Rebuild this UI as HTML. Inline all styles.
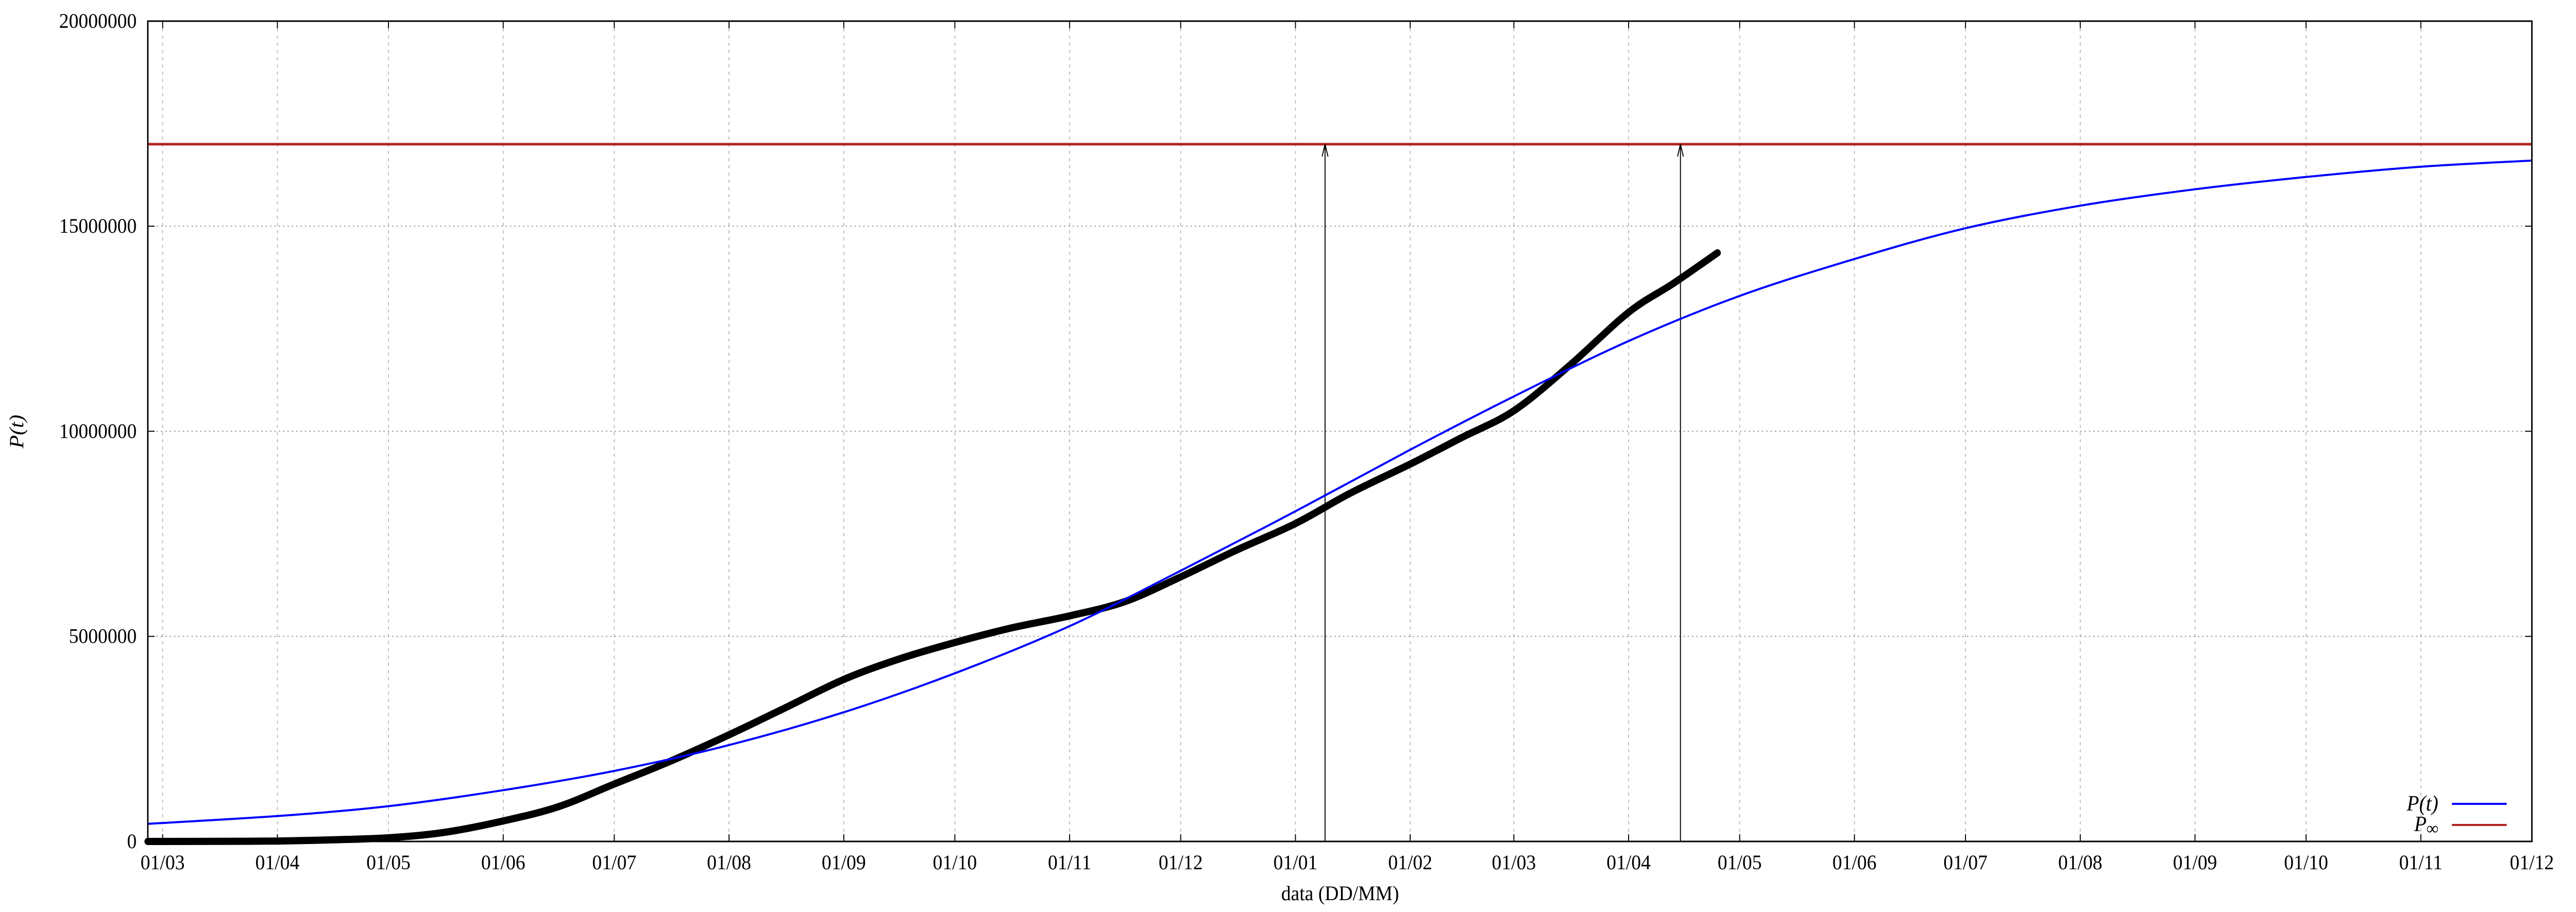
<!DOCTYPE html>
<html><head><meta charset="utf-8"><style>
html,body{margin:0;padding:0;background:#fff;width:100%;height:100%;overflow:hidden;}
svg{display:block;position:fixed;left:0;top:0;width:100vw;height:100vh;}
text{font-family:"Liberation Serif",serif;fill:#000;}
</style></head><body>
<svg id="chart" viewBox="0 0 5315 1771" preserveAspectRatio="none" xmlns="http://www.w3.org/2000/svg">
<rect width="5315" height="1771" fill="#fff"/>
<g id="grid"></g>
<g id="series"></g>
<g id="axes"></g>
<text x="2765" y="1748" font-size="40" text-anchor="middle">data (DD/MM)</text>
<text transform="translate(48,838) rotate(-90)" font-size="42" font-style="italic" text-anchor="middle">P(t)</text>
<g>
<text x="5031" y="1574" font-size="42" font-style="italic" text-anchor="end">P(t)</text>
<line x1="5059" y1="1561" x2="5172" y2="1561" stroke="#0000ff" stroke-width="4"/>
<text x="5031" y="1614" font-size="42" font-style="italic" text-anchor="end">P<tspan font-size="34" dy="6">∞</tspan></text>
<line x1="5059" y1="1602" x2="5172" y2="1602" stroke="#b22222" stroke-width="4"/>
</g>
</svg>
<script>
// days since 01/03/2020
const monthTickDays = [0,31,61,92,122,153,184,214,245,275,306,337,365,396,426,457,487,518,549,579,610,640];
const monthTickLabels = ["01/03","01/04","01/05","01/06","01/07","01/08","01/09","01/10","01/11","01/12","01/01","01/02","01/03","01/04","01/05","01/06","01/07","01/08","01/09","01/10","01/11","01/12"];
const yTickValues = [0,5000000,10000000,15000000,20000000];
const yTickLabels = ["0","5000000","10000000","15000000","20000000"];
const dataDays = [-4,0,15,31,46,61,76,92,107,122,137,153,168,184,199,214,229,245,260,275,290,306,321,337,351,365,380,396,408,420];
const dataValues = [0,0,3000,10000,40000,90000,220000,500000,850000,1400000,1950000,2600000,3250000,3950000,4450000,4850000,5200000,5500000,5850000,6450000,7100000,7750000,8500000,9200000,9850000,10500000,11600000,12900000,13600000,14350000];
const modelDays = [-4,31,61,92,122,153,184,214,245,275,306,337,365,396,426,457,487,518,549,579,610,640];
const modelValues = [430000,620000,860000,1250000,1720000,2350000,3150000,4100000,5250000,6600000,8050000,9550000,10850000,12200000,13300000,14200000,14950000,15500000,15900000,16200000,16450000,16600000];
const pInfinity = 17000000;
const arrowDays = [314,410];

const X0=305,X1=5224,Y0=1634,Y1=41;
const dMin=-4,dMax=640,vMax=20000000;
const xs=d=>X0+(d-dMin)/(dMax-dMin)*(X1-X0);
const ys=v=>Y0-v/vMax*(Y0-Y1);
const NS="http://www.w3.org/2000/svg";
function mk(tag,attrs,parent){const e=document.createElementNS(NS,tag);for(const k in attrs)e.setAttribute(k,attrs[k]);parent.appendChild(e);return e;}
const grid=document.getElementById('grid'),series=document.getElementById('series'),axes=document.getElementById('axes');

monthTickDays.forEach((d,i)=>{
  const x=xs(d);
  const g=mk('line',{x1:x,y1:Y1,x2:x,y2:Y0,stroke:'#bbb','stroke-width':2,'stroke-dasharray':'6,8'},grid);
  
  
  const t1=mk('line',{x1:x,y1:Y0,x2:x,y2:Y0-14,stroke:'#000','stroke-width':2},axes);
  
  
  const t2=mk('line',{x1:x,y1:Y1,x2:x,y2:Y1+14,stroke:'#000','stroke-width':2},axes);
  
  
  const lb=mk('text',{x:x,y:1688,'font-size':40,'text-anchor':'middle'},axes);
  lb.textContent=monthTickLabels[i];
  
  
});
yTickValues.forEach((v,i)=>{
  const y=ys(v);
  if(v>0&&v<vMax){
    const g=mk('line',{x1:X0,y1:y,x2:X1,y2:y,stroke:'#999','stroke-width':2,'stroke-dasharray':'3,6'},grid);
    
    
  }
  const t=mk('line',{x1:X0,y1:y,x2:X0+14,y2:y,stroke:'#000','stroke-width':2},axes);
  
  
  const t2=mk('line',{x1:X1,y1:y,x2:X1-14,y2:y,stroke:'#000','stroke-width':2},axes);
  
  
  const lb=mk('text',{x:282,y:y+13,'font-size':40,'text-anchor':'end'},axes);
  lb.textContent=yTickLabels[i];
  
  
});
const frame=mk('rect',{x:X0,y:Y1,width:X1-X0,height:Y0-Y1,fill:'none',stroke:'#000','stroke-width':3},axes);



function smoothPath(dx,dv){
  const p=dx.map((d,i)=>[xs(d),ys(dv[i])]);
  let s='M'+p[0][0]+','+p[0][1];
  for(let i=0;i<p.length-1;i++){
    const a=p[Math.max(0,i-1)],b=p[i],c=p[i+1],e=p[Math.min(p.length-1,i+2)];
    const c1=[b[0]+(c[0]-a[0])/6,b[1]+(c[1]-a[1])/6],c2=[c[0]-(e[0]-b[0])/6,c[1]-(e[1]-b[1])/6];
    s+=' C'+c1[0]+','+c1[1]+' '+c2[0]+','+c2[1]+' '+c[0]+','+c[1];
  }
  return s;
}
const pinf=mk('line',{x1:X0,y1:ys(pInfinity),x2:X1,y2:ys(pInfinity),stroke:'#b22222','stroke-width':5},series);


arrowDays.forEach(d=>{
  const x=xs(d),yt=ys(pInfinity);
  const a=mk('path',{d:`M${x},${Y0} L${x},${yt} M${x-6},${yt+24} L${x},${yt} L${x+6},${yt+24}`,stroke:'#000','stroke-width':2,fill:'none'},series);
  
  
});
const data=mk('path',{d:smoothPath(dataDays,dataValues),stroke:'#000','stroke-width':14,fill:'none','stroke-linecap':'round','stroke-linejoin':'round'},series);


const model=mk('path',{d:smoothPath(modelDays,modelValues),stroke:'#0000ff','stroke-width':4,fill:'none'},series);


</script>
</body></html>
